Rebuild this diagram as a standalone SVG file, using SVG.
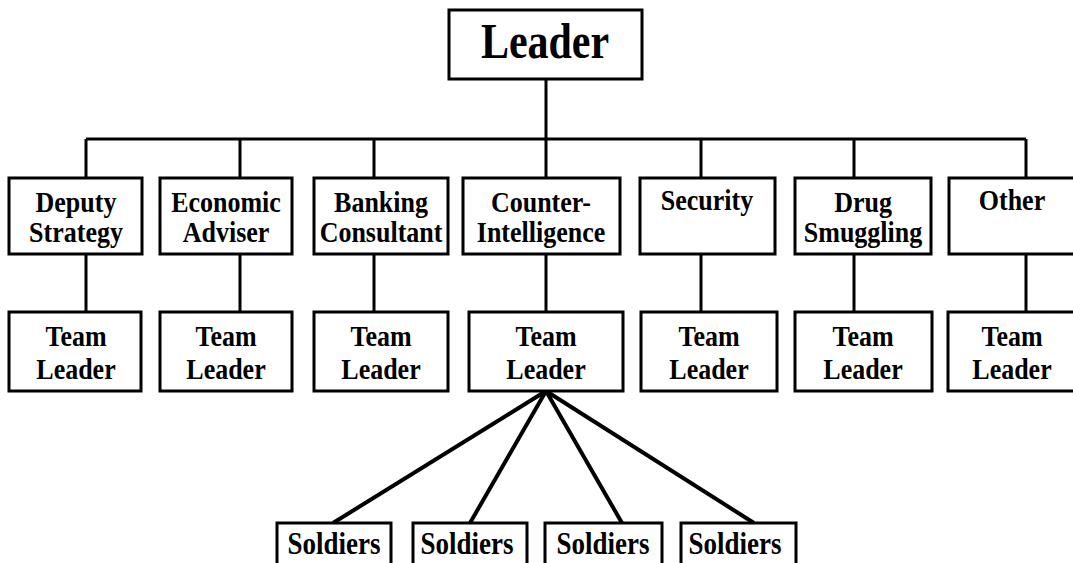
<svg xmlns="http://www.w3.org/2000/svg" width="1073" height="563" viewBox="0 0 1073 563">
<style>
.box{fill:#fff;stroke:#000;stroke-width:3}
.t{font-family:"Liberation Serif","Times New Roman",serif;font-weight:bold;font-size:26px;fill:#000;text-anchor:middle}
.big{font-size:42px}
.sd{font-size:27px}
.ln{stroke:#000;stroke-width:3;fill:none}
.fan{stroke:#000;stroke-width:4;fill:none}
</style>
<rect width="1073" height="563" fill="#fff"/>
<g id="connectors">
<path class="ln" d="M546 79V139M86 139H1026M86 139V178M240 139V178M374 139V178M546 139V178M701 139V178M854 139V178M1026 139V178"/>
<path class="ln" d="M86 254V312M240 254V312M374 254V312M546 254V312M701 254V312M854 254V312M1026 254V312"/>
<path class="fan" d="M546 391L333 523M546 391L470 523M546 391L622 523M546 391L754 523"/>
</g>
<g id="leader"><rect class="box" x="449" y="10" width="193" height="69"/><text class="t big" transform="translate(545,58) scale(1,1.2)">Leader</text></g>
<g id="deputy"><rect class="box" x="9" y="178" width="133" height="76"/><text class="t" transform="translate(76,212) scale(1,1.15)">Deputy</text><text class="t" transform="translate(76,242) scale(1,1.15)">Strategy</text></g>
<g id="economic"><rect class="box" x="160" y="178" width="132" height="76"/><text class="t" transform="translate(226,212) scale(1,1.15)">Economic</text><text class="t" transform="translate(226,242) scale(1,1.15)">Adviser</text></g>
<g id="banking"><rect class="box" x="314" y="178" width="134" height="76"/><text class="t" transform="translate(381,212) scale(1,1.15)">Banking</text><text class="t" transform="translate(381,242) scale(1,1.15)">Consultant</text></g>
<g id="counter"><rect class="box" x="463" y="178" width="157" height="76"/><text class="t" transform="translate(541,212) scale(1,1.15)">Counter-</text><text class="t" transform="translate(541,242) scale(1,1.15)">Intelligence</text></g>
<g id="security"><rect class="box" x="640" y="178" width="135" height="76"/><text class="t" transform="translate(707,210) scale(1,1.15)">Security</text></g>
<g id="drug"><rect class="box" x="795" y="178" width="136" height="76"/><text class="t" transform="translate(863,212) scale(1,1.15)">Drug</text><text class="t" transform="translate(863,242) scale(1,1.15)">Smuggling</text></g>
<g id="other"><rect class="box" x="949" y="178" width="130" height="76"/><text class="t" transform="translate(1012,210) scale(1,1.15)">Other</text></g>
<g id="tl1"><rect class="box" x="9" y="312" width="132" height="79"/><text class="t" transform="translate(76,346) scale(1,1.15)">Team</text><text class="t" transform="translate(76,379) scale(1,1.15)">Leader</text></g>
<g id="tl2"><rect class="box" x="160" y="312" width="132" height="79"/><text class="t" transform="translate(226,346) scale(1,1.15)">Team</text><text class="t" transform="translate(226,379) scale(1,1.15)">Leader</text></g>
<g id="tl3"><rect class="box" x="314" y="312" width="134" height="79"/><text class="t" transform="translate(381,346) scale(1,1.15)">Team</text><text class="t" transform="translate(381,379) scale(1,1.15)">Leader</text></g>
<g id="tl4"><rect class="box" x="469" y="312" width="154" height="79"/><text class="t" transform="translate(546,346) scale(1,1.15)">Team</text><text class="t" transform="translate(546,379) scale(1,1.15)">Leader</text></g>
<g id="tl5"><rect class="box" x="641" y="312" width="136" height="79"/><text class="t" transform="translate(709,346) scale(1,1.15)">Team</text><text class="t" transform="translate(709,379) scale(1,1.15)">Leader</text></g>
<g id="tl6"><rect class="box" x="795" y="312" width="137" height="79"/><text class="t" transform="translate(863,346) scale(1,1.15)">Team</text><text class="t" transform="translate(863,379) scale(1,1.15)">Leader</text></g>
<g id="tl7"><rect class="box" x="948" y="312" width="130" height="79"/><text class="t" transform="translate(1012,346) scale(1,1.15)">Team</text><text class="t" transform="translate(1012,379) scale(1,1.15)">Leader</text></g>
<g id="s1"><rect class="box" x="277" y="523" width="114" height="44"/><text class="t sd" transform="translate(334,554) scale(1,1.15)">Soldiers</text></g>
<g id="s2"><rect class="box" x="413" y="523" width="114" height="44"/><text class="t sd" transform="translate(467,554) scale(1,1.15)">Soldiers</text></g>
<g id="s3"><rect class="box" x="545" y="523" width="117" height="44"/><text class="t sd" transform="translate(603,554) scale(1,1.15)">Soldiers</text></g>
<g id="s4"><rect class="box" x="681" y="523" width="115" height="44"/><text class="t sd" transform="translate(735,554) scale(1,1.15)">Soldiers</text></g>
</svg>
